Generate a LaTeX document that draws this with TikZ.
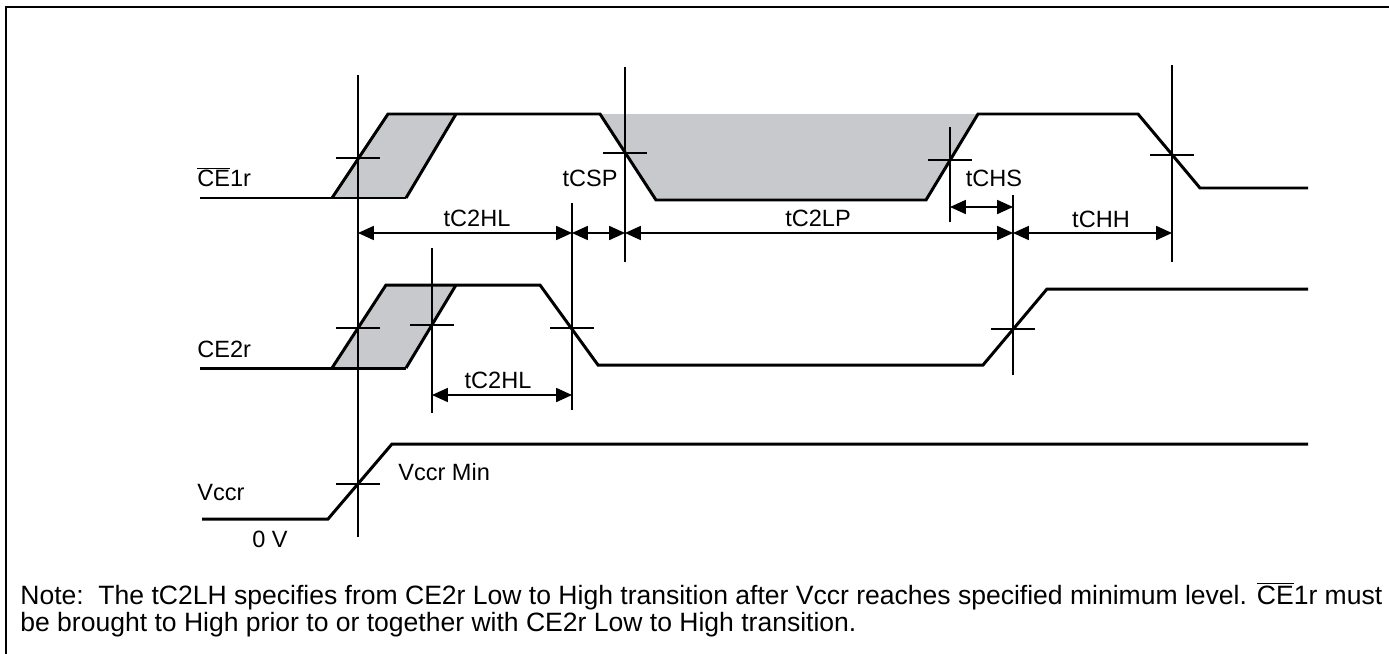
\documentclass[tikz,border=0pt]{standalone}
\usepackage{fontspec}
\setmainfont{Liberation Sans}
\usetikzlibrary{arrows.meta}
\definecolor{shadegray}{RGB}{200,201,204}
\newcommand{\barCE}{$\overline{\hbox{CE}}$}
\begin{document}
\begin{tikzpicture}[x=0.02cm,y=-0.02cm,
  sig/.style={line width=1.7pt, line join=miter},
  guide/.style={line width=0.85pt},
  tickmark/.style={line width=0.85pt},
  dimline/.style={line width=0.75pt, {Triangle[length=9pt,width=8pt]}-{Triangle[length=9pt,width=8pt]}},
  lbl/.style={font=\fontsize{13.4}{16}\selectfont, inner sep=0pt},
  notetext/.style={font=\fontsize{15.1}{18}\selectfont, inner sep=0pt},
]
\useasboundingbox (0,0) rectangle (1389,653);
% frame
\draw[line width=1.7pt] (6,660) -- (6,7) -- (1395,7);
% shading
\fill[shadegray] (332,198) -- (388,114) -- (456,114) -- (406,198) -- cycle;
\fill[shadegray] (600,114) -- (978,114) -- (926,200) -- (656,200) -- cycle;
\fill[shadegray] (332,368) -- (386,285) -- (456,285) -- (406,368) -- cycle;
% guide coordinates
\coordinate (gA) at (358,75);   \coordinate (gAb) at (358,537);
\coordinate (gB) at (625,67);   \coordinate (gBb) at (625,262);
\coordinate (gC) at (572,203);  \coordinate (gCb) at (572,410);
\coordinate (gD) at (432,248);  \coordinate (gDb) at (432,413);
\coordinate (gE) at (950,127);  \coordinate (gEb) at (950,222);
\coordinate (gF) at (1013,195); \coordinate (gFb) at (1013,375);
\coordinate (gG) at (1172,65);  \coordinate (gGb) at (1172,262);
\foreach \a/\b in {gA/gAb,gB/gBb,gC/gCb,gD/gDb,gE/gEb,gF/gFb,gG/gGb}
  \draw[guide] (\a) -- (\b);
% CE1r signal
\draw[sig] (200,198) -- (406,198);
\draw[sig] (332,198) -- (388,114) -- (600,114) -- (656,200) -- (926,200) -- (978,114) -- (1138,114) -- (1200,188) -- (1308,188);
\draw[sig] (406,198) -- (456,114);
% CE2r signal
\draw[sig] (200,368) -- (406,368);
\draw[sig] (332,368) -- (386,285) -- (540,285) -- (598,365) -- (983,365) -- (1047,289) -- (1308,289);
\draw[sig] (406,368) -- (456,285);
% Vccr signal
\draw[sig] (202,519) -- (328,519) -- (392,444) -- (1308,444);
% crosshair ticks
\foreach \x/\y in {358/158,625/153,950/160,1172/155,358/328,432/325,572/328,1013/329,358/484}
  \draw[tickmark] (\x-22,\y) -- (\x+22,\y);
% dimension arrows
\draw[dimline] (gA |- 0,233) -- (gC |- 0,233);
\draw[dimline] (gC |- 0,233) -- (gB |- 0,233);
\draw[dimline] (gB |- 0,233) -- (gF |- 0,233);
\draw[dimline] (gF |- 0,233) -- (gG |- 0,233);
\draw[dimline] (gE |- 0,207) -- (gF |- 0,207);
\draw[dimline] (gD |- 0,395) -- (gC |- 0,395);
% labels
\node[lbl, anchor=west] (lce1) at (197,177) {\barCE1r};
\node[lbl, anchor=west] (lce2) at (197,349) {CE2r};
\node[lbl, anchor=west] (lvcc) at (197,493) {Vccr};
\node[lbl] (ltcsp) at (590,178) {tCSP};
\node[lbl] (ltc2hl) at (477,218) {tC2HL};
\node[lbl] (ltc2lp) at (818,218) {tC2LP};
\node[lbl] (ltchs) at (994,178) {tCHS};
\node[lbl] (ltchh) at (1101,219) {tCHH};
\node[lbl] (ltc2hlb) at (498,380) {tC2HL};
\node[lbl, anchor=west] (lvmin) at (398,472) {Vccr Min};
\node[lbl] (l0v) at (270,539) {0 V};
\node[notetext, anchor=west] (note1) at (20,596) {Note:\ \ The tC2LH specifies from CE2r Low to High transition after Vccr reaches specified minimum level. \barCE1r must};
\node[notetext, anchor=west] (note2) at (20,625) {be brought to High prior to or together with CE2r Low to High transition.};
\end{tikzpicture}
\end{document}
